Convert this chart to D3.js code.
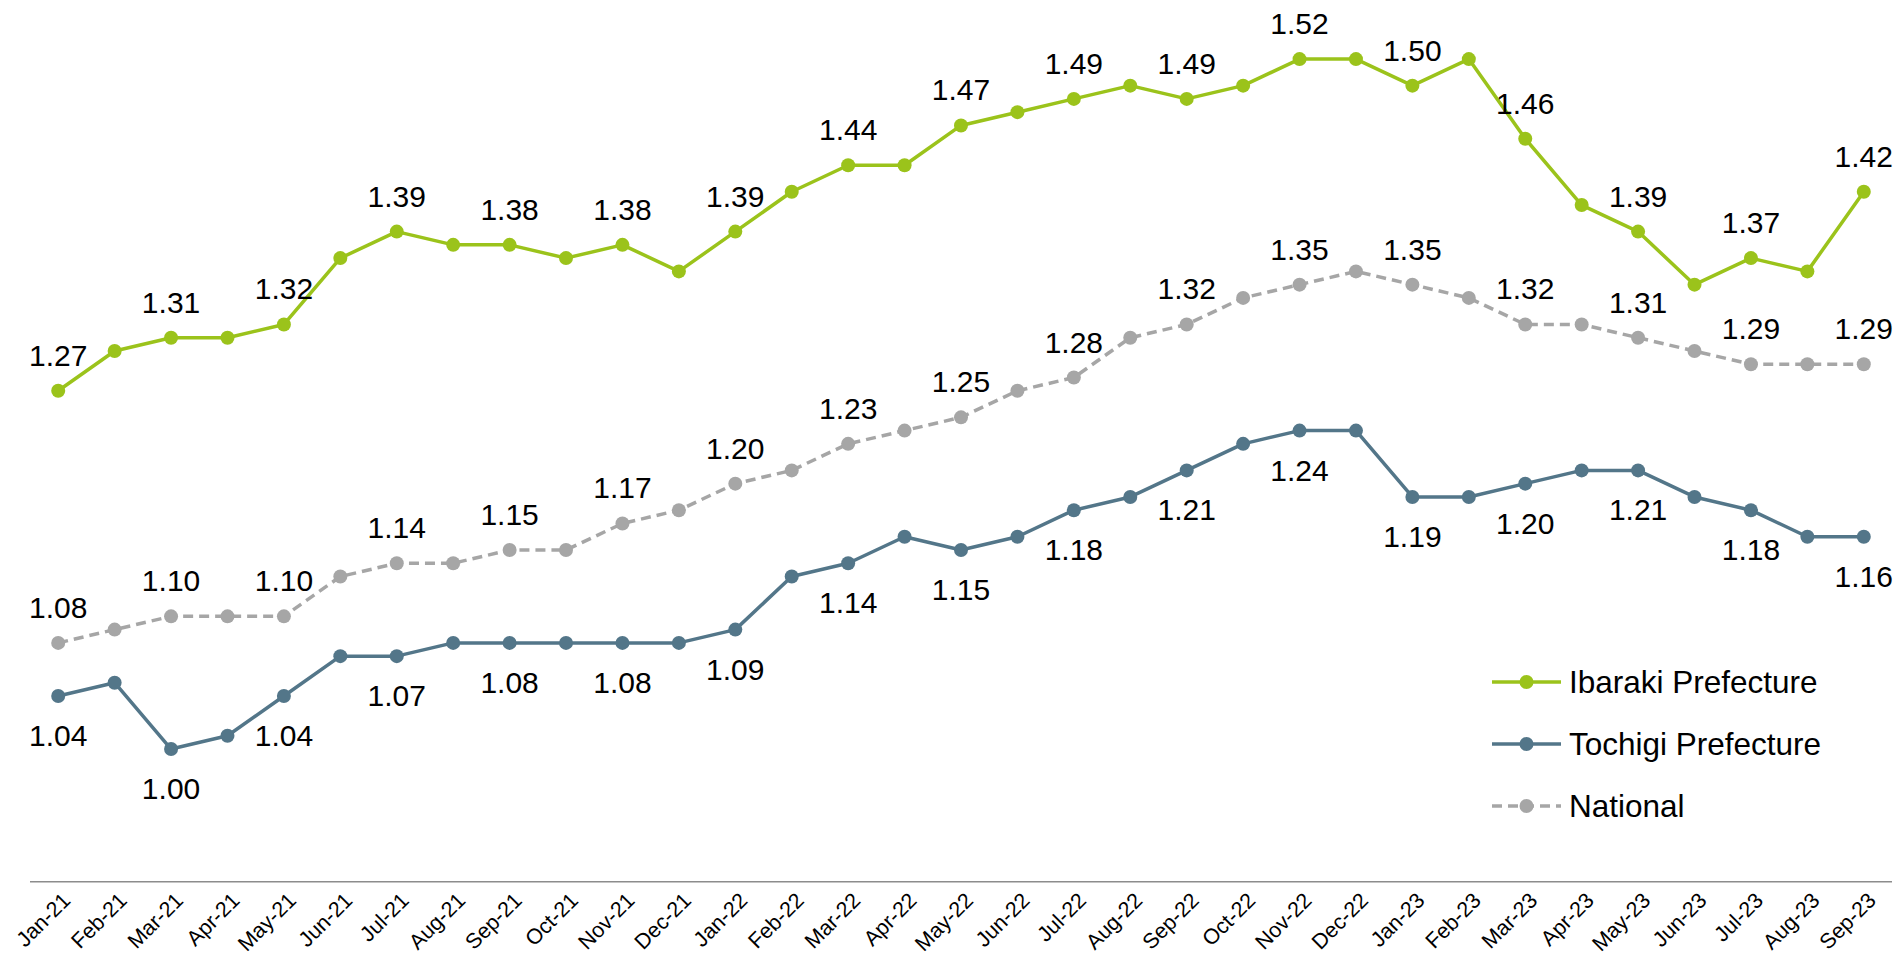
<!DOCTYPE html>
<html>
<head>
<meta charset="utf-8">
<script src="https://cdn.jsdelivr.net/npm/d3@7"></script>
<style>
  html, body { margin: 0; padding: 0; background: #fff; }
  svg { display: block; font-family: "Liberation Sans", Arial, sans-serif; }
</style>
</head>
<body>
<svg id="chart" width="1902" height="957"></svg>
<script>
// Monthly job-openings-to-applicants ratio, Jan 2021 – Sep 2023
const months = ["Jan-21","Feb-21","Mar-21","Apr-21","May-21","Jun-21","Jul-21","Aug-21","Sep-21","Oct-21","Nov-21","Dec-21",
  "Jan-22","Feb-22","Mar-22","Apr-22","May-22","Jun-22","Jul-22","Aug-22","Sep-22","Oct-22","Nov-22","Dec-22",
  "Jan-23","Feb-23","Mar-23","Apr-23","May-23","Jun-23","Jul-23","Aug-23","Sep-23"];

const ibaraki = [1.27,1.30,1.31,1.31,1.32,1.37,1.39,1.38,1.38,1.37,1.38,1.36,
  1.39,1.42,1.44,1.44,1.47,1.48,1.49,1.50,1.49,1.50,1.52,1.52,
  1.50,1.52,1.46,1.41,1.39,1.35,1.37,1.36,1.42];

const tochigi = [1.04,1.05,1.00,1.01,1.04,1.07,1.07,1.08,1.08,1.08,1.08,1.08,
  1.09,1.13,1.14,1.16,1.15,1.16,1.18,1.19,1.21,1.23,1.24,1.24,
  1.19,1.19,1.20,1.21,1.21,1.19,1.18,1.16,1.16];

const national = [1.08,1.09,1.10,1.10,1.10,1.13,1.14,1.14,1.15,1.15,1.17,1.18,
  1.20,1.21,1.23,1.24,1.25,1.27,1.28,1.31,1.32,1.34,1.35,1.36,
  1.35,1.34,1.32,1.32,1.31,1.30,1.29,1.29,1.29];

const seriesNames = ["Ibaraki Prefecture", "Tochigi Prefecture", "National"];

const series = [
  { name: seriesNames[0], values: ibaraki,  color: "#9BC31B", dash: null,   labelPos: "above" },
  { name: seriesNames[1], values: tochigi,  color: "#537689", dash: null,   labelPos: "below" },
  { name: seriesNames[2], values: national, color: "#A6A6A6", dash: "10,6", labelPos: "above" }
];

const svg = d3.select("#chart");

const x = d3.scalePoint().domain(months).range([30, 1892]).padding(0.5);
const y = d3.scaleLinear().domain([0.90, 1.55]).range([881.7, 19.3]);

// Category axis: plain line with rotated month labels
const xAxis = svg.append("g").attr("transform", "translate(0,881.7)")
  .call(d3.axisBottom(x).tickSize(0).tickPadding(0));
xAxis.select(".domain").attr("stroke", "#8C8C8C").attr("stroke-width", 1.5)
  .attr("d", "M30,0H1892");
xAxis.selectAll(".tick text")
  .attr("font-size", 21.5)
  .attr("fill", "#000")
  .attr("text-anchor", "end")
  .attr("dy", 0)
  .attr("transform", "translate(13,20) rotate(-45)");

const line = d3.line()
  .x((d, i) => x(months[i]))
  .y(d => y(d));

// Draw National first so the prefecture lines sit on top
const drawOrder = [series[2], series[1], series[0]];

drawOrder.forEach(s => {
  const g = svg.append("g");
  g.append("path")
    .datum(s.values)
    .attr("fill", "none")
    .attr("stroke", s.color)
    .attr("stroke-width", 3.5)
    .attr("stroke-dasharray", s.dash)
    .attr("stroke-linejoin", "round")
    .attr("d", line);
  g.selectAll("circle")
    .data(s.values)
    .join("circle")
    .attr("cx", (d, i) => x(months[i]))
    .attr("cy", d => y(d))
    .attr("r", 7)
    .attr("fill", s.color);
});

// Value labels on every other month
series.forEach(s => {
  svg.append("g").selectAll("text")
    .data(s.values.map((v, i) => ({ v, i })).filter(d => d.i % 2 === 0))
    .join("text")
    .attr("x", d => x(months[d.i]))
    .attr("y", d => s.labelPos === "above" ? y(d.v) - 25 : y(d.v) + 50)
    .attr("text-anchor", "middle")
    .attr("font-size", 30)
    .attr("fill", "#000")
    .text(d => d.v.toFixed(2));
});

// Legend
const legendY = [682, 744, 806];
const legend = svg.append("g");
series.forEach((s, k) => {
  const g = legend.append("g").attr("transform", `translate(0,${legendY[k]})`);
  g.append("line")
    .attr("x1", 1492).attr("x2", 1561).attr("y1", 0).attr("y2", 0)
    .attr("stroke", s.color).attr("stroke-width", 3.5)
    .attr("stroke-dasharray", s.dash);
  g.append("circle").attr("cx", 1526.5).attr("cy", 0).attr("r", 7).attr("fill", s.color);
  g.append("text")
    .attr("x", 1569).attr("y", 0).attr("dy", "0.36em")
    .attr("font-size", 31.5).attr("fill", "#000")
    .text(s.name);
});
</script>
</body>
</html>
